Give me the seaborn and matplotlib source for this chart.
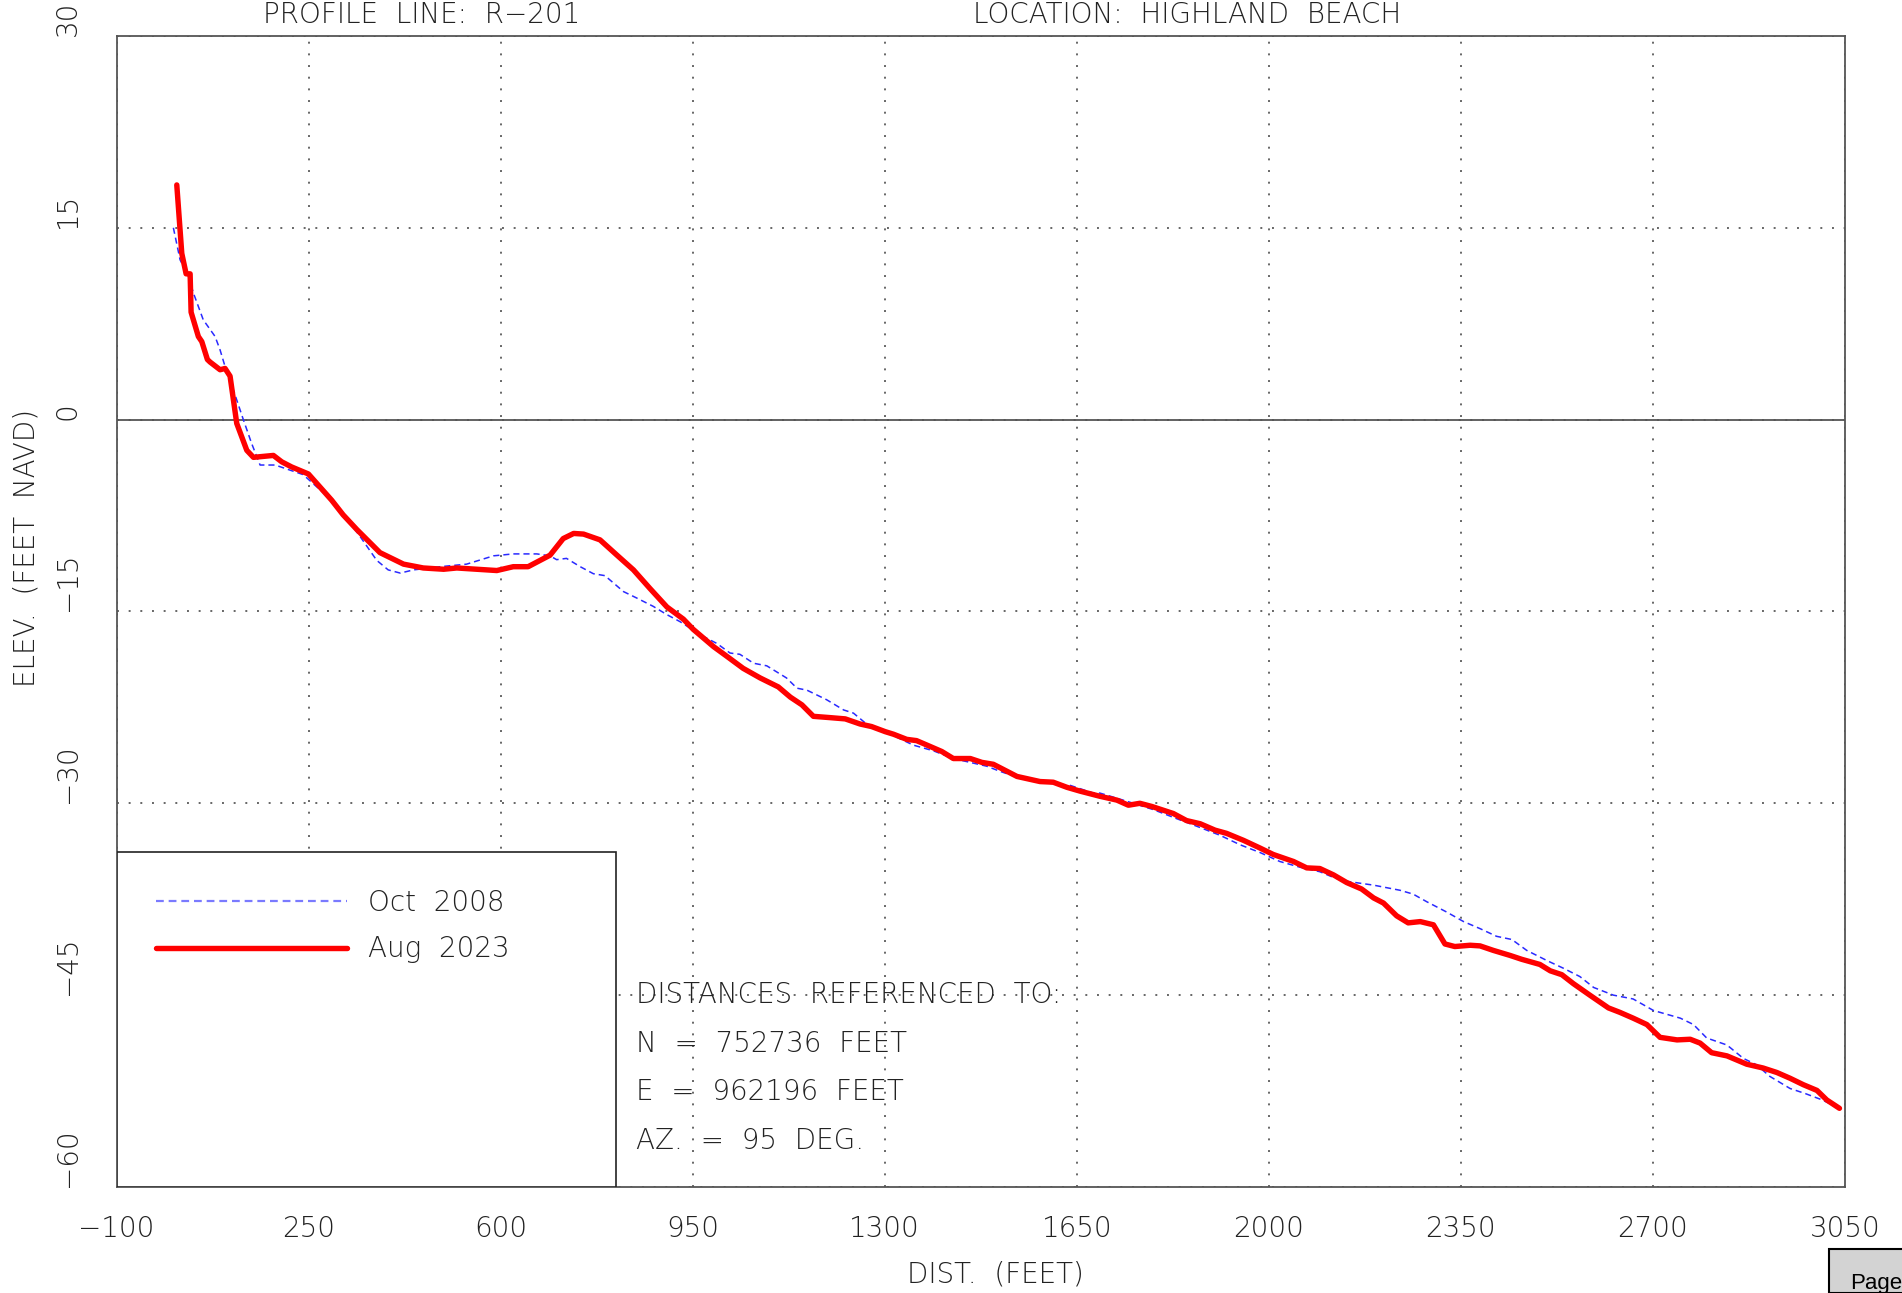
import numpy as np
import pandas as pd
import matplotlib
matplotlib.use("Agg")
import matplotlib.pyplot as plt
from matplotlib.lines import Line2D
from matplotlib.patches import Rectangle
import seaborn as sns

# profile data (distance ft, elevation ft NAVD)
dist_2008 = [3.5, 15.7, 30.9, 40, 58, 79.5, 88.6, 97.7, 113, 131, 146, 161.5, 189, 240,
             292, 319, 344, 374, 395, 417, 441, 490, 538, 587, 623, 666, 690, 702, 720,
             745, 769, 790, 824, 848, 878, 903, 927, 969, 994, 1018, 1036, 1061, 1085,
             1121, 1140, 1158, 1194, 1225, 1243, 1264, 1301, 1352, 1389, 1425, 1486,
             1510, 1541, 1583, 1638, 1680, 1692, 1723, 1753, 1790, 1832, 1869, 1911,
             1948, 1984, 2020, 2057, 2093, 2118, 2142, 2191, 2239, 2263, 2288, 2324,
             2355, 2385, 2415, 2443, 2470, 2507, 2537, 2567, 2592, 2628, 2664, 2701,
             2750, 2774, 2798, 2835, 2865, 2889, 2913, 2950, 2978, 3009, 3033]
elev_2008 = [15.0, 12.5, 11.2, 9.9, 7.8, 6.5, 5.45, 4.15, 2.3, 0.0, -1.85, -3.55, -3.55,
             -4.3, -6.3, -7.7, -9.15, -11.0, -11.75, -12.0, -11.75, -11.5, -11.3, -10.65,
             -10.5, -10.5, -10.65, -10.95, -10.85, -11.5, -12.05, -12.2, -13.45, -13.95,
             -14.6, -15.25, -15.8, -16.95, -17.5, -18.25, -18.35, -19.05, -19.25, -20.2,
             -21.0, -21.15, -21.9, -22.7, -22.95, -23.7, -24.4, -25.45, -25.9, -26.5,
             -27.1, -27.5, -27.95, -28.35, -28.6, -29.2, -29.2, -29.6, -30.0, -30.5,
             -31.2, -31.8, -32.5, -33.25, -33.85, -34.55, -35.0, -35.35, -35.8, -36.1,
             -36.4, -36.8, -37.1, -37.7, -38.5, -39.25, -39.8, -40.4, -40.65, -41.5,
             -42.3, -42.9, -43.55, -44.4, -45.0, -45.3, -46.2, -46.8, -47.3, -48.35,
             -48.9, -49.95, -50.45, -51.35, -52.3, -52.7, -53.2, -53.7]

dist_2023 = [9.7, 18.8, 26.7, 34, 35.8, 49, 55.3, 65.5, 70.4, 88.6, 97.7, 106.8, 119,
             137.3, 149.4, 185.8, 201, 219, 249.6, 292, 313, 338, 380, 423, 459, 496,
             520, 593, 623, 650, 690, 714, 733, 751, 781, 812, 842, 872, 903, 933, 951,
             988, 1012, 1042, 1073, 1106, 1128, 1149, 1170, 1200, 1228, 1255, 1276,
             1301, 1316, 1340, 1358, 1377, 1404, 1425, 1456, 1477, 1498, 1541, 1583,
             1607, 1632, 1656, 1692, 1723, 1744, 1765, 1787, 1826, 1850, 1875, 1902,
             1923, 1954, 1984, 2008, 2045, 2069, 2093, 2118, 2142, 2169, 2191, 2209,
             2233, 2254, 2276, 2300, 2321, 2339, 2367, 2385, 2409, 2440, 2461, 2494,
             2513, 2534, 2555, 2585, 2619, 2640, 2664, 2689, 2713, 2744, 2768, 2786,
             2807, 2835, 2871, 2901, 2926, 2950, 2974, 2999, 3017, 3040]
elev_2023 = [18.35, 13.0, 11.4, 11.4, 8.4, 6.5, 6.1, 4.7, 4.5, 3.9, 4.0, 3.4, -0.3,
             -2.4, -2.95, -2.8, -3.3, -3.7, -4.25, -6.3, -7.45, -8.6, -10.4, -11.3,
             -11.6, -11.7, -11.6, -11.8, -11.5, -11.5, -10.6, -9.3, -8.9, -8.95, -9.4,
             -10.6, -11.75, -13.2, -14.65, -15.6, -16.4, -17.75, -18.5, -19.45, -20.2,
             -20.9, -21.7, -22.3, -23.2, -23.3, -23.4, -23.8, -24.0, -24.4, -24.6,
             -25.0, -25.1, -25.45, -25.95, -26.5, -26.5, -26.8, -26.95, -27.9, -28.3,
             -28.35, -28.75, -29.05, -29.45, -29.75, -30.15, -30.0, -30.25, -30.8,
             -31.35, -31.6, -32.1, -32.35, -32.9, -33.5, -34.0, -34.55, -35.05, -35.1,
             -35.6, -36.2, -36.7, -37.4, -37.8, -38.8, -39.35, -39.25, -39.5, -41.0,
             -41.2, -41.1, -41.15, -41.5, -41.9, -42.2, -42.6, -43.1, -43.4, -44.1,
             -45.0, -46.0, -46.35, -46.8, -47.3, -48.3, -48.5, -48.45, -48.75, -49.5,
             -49.75, -50.4, -50.7, -51.05, -51.5, -52.0, -52.45, -53.2, -53.85]

labels = ["Oct  2008", "Aug  2023"]
x_ticks = list(range(-100, 3051, 350))
y_ticks = list(range(-60, 31, 15))
ref_lines = ["DISTANCES  REFERENCED  TO:", "N  =  752736  FEET",
             "E  =  962196  FEET", "AZ.  =  95  DEG."]

df_2008 = pd.DataFrame({"dist": dist_2008, "elev": elev_2008})
df_2023 = pd.DataFrame({"dist": dist_2023, "elev": elev_2023})

sns.set_style("white")
plt.rcParams["font.family"] = ["DejaVu Sans"]
plt.rcParams["font.weight"] = 200
txt_color = "#222222"
axis_color = "#555555"
fs = 20

fig, ax = plt.subplots(figsize=(19.02, 12.93), dpi=100)
fig.subplots_adjust(left=0.0613, right=0.970, top=0.9722, bottom=0.0820)

# old survey: thin blue dashes
sns.lineplot(data=df_2008, x="dist", y="elev", ax=ax, color="#2a2aff", lw=1.1,
             estimator=None, sort=False, zorder=4)
ax.lines[-1].set_dashes((4, 2.6))
# new survey: thick red
sns.lineplot(data=df_2023, x="dist", y="elev", ax=ax, color="#ff0000", lw=3.9,
             estimator=None, sort=False, zorder=5)

ax.set_xlim(-100, 3050)
ax.set_ylim(-60, 30)
ax.set_xticks(x_ticks)
ax.set_yticks(y_ticks)
ax.set_xticklabels([str(t).replace("-", "\u2212") for t in x_ticks])
ax.set_yticklabels([str(t).replace("-", "\u2212") for t in y_ticks])
ax.set_xlabel("")
ax.set_ylabel("")

ax.grid(True, color="#666666", lw=1.4, linestyle=(0, (1, 5)), zorder=0.5)
ax.set_axisbelow(True)
ax.axhline(0, color=axis_color, lw=1.3, zorder=1)

for sp in ax.spines.values():
    sp.set_visible(True)
    sp.set_color(axis_color)
    sp.set_linewidth(1.3)

ax.tick_params(axis="both", direction="out", length=14, width=1.2, color=axis_color,
               labelsize=fs, labelcolor=txt_color)
ax.tick_params(axis="x", pad=6.5)
ax.tick_params(axis="y", pad=11)
plt.setp(ax.get_yticklabels(), rotation=90, va="bottom")

# legend box in lower-left corner
ax.add_patch(Rectangle((0, 0), 0.289, 0.291, transform=ax.transAxes,
                       fc="white", ec="#222222", lw=1.2, zorder=3))
handles = [Line2D([], [], color="#7a7aff", lw=1.6, dashes=(3.5, 2.2)),
           Line2D([], [], color="#ff0000", lw=3.9)]
leg = ax.legend(handles, labels, loc="upper left", bbox_to_anchor=(0.0226, 0.259),
                frameon=False, fontsize=fs, handlelength=6.9, handletextpad=0.76,
                labelspacing=0.67, borderpad=0, borderaxespad=0)
leg.set_zorder(6)
for t in leg.get_texts():
    t.set_color(txt_color)

# reference info text
for i, line in enumerate(ref_lines):
    ax.text(846, -45 - 3.8 * i, line, fontsize=fs, color=txt_color,
            va="center", ha="left", zorder=6)

# header and axis labels
fig.text(422 / 1902, 1 - 23 / 1293, "PROFILE  LINE:  R\u2212201", fontsize=fs,
         color=txt_color, ha="center", va="baseline")
fig.text(1187 / 1902, 1 - 23 / 1293, "LOCATION:  HIGHLAND  BEACH", fontsize=fs,
         color=txt_color, ha="center", va="baseline")
fig.text(27 / 1902, 1 - 548 / 1293, "ELEV.  (FEET  NAVD)", fontsize=fs,
         color=txt_color, ha="center", va="center", rotation=90)
fig.text(995 / 1902, 1 - 1274 / 1293, "DIST.  (FEET)", fontsize=fs,
         color=txt_color, ha="center", va="center")

# corner "Page" button
fig.patches.append(Rectangle((1829 / 1902, 0), 0.1, 44 / 1293, transform=fig.transFigure,
                             fc="#d3d3d3", ec="black", lw=1.5))
fig.text(1850 / 1902, 4 / 1293, "Page", fontsize=16, color="black",
         family="Liberation Sans", weight="normal", ha="left", va="baseline")

fig.savefig("out.png", dpi=100)
